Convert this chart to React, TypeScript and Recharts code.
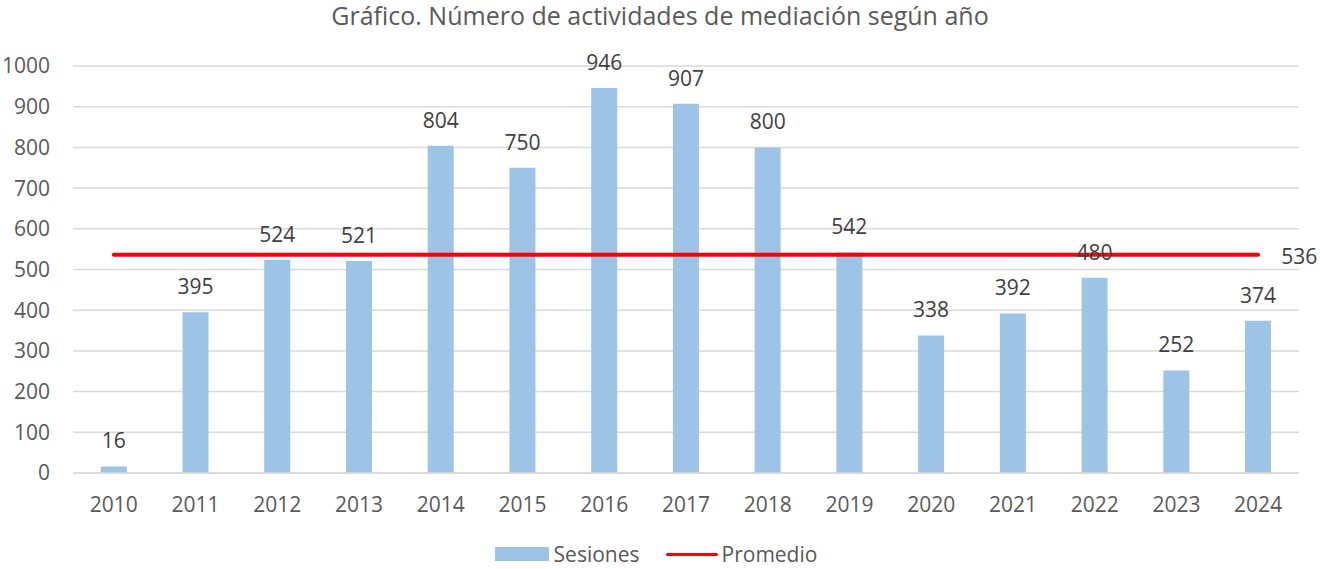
import React from 'react';
import {
  ComposedChart,
  Bar,
  Line,
  XAxis,
  YAxis,
  CartesianGrid,
  LabelList,
  Legend
} from 'recharts';

const years = ['2010', '2011', '2012', '2013', '2014', '2015', '2016', '2017', '2018', '2019', '2020', '2021', '2022', '2023', '2024'];
const sesiones = [16, 395, 524, 521, 804, 750, 946, 907, 800, 542, 338, 392, 480, 252, 374];
const promedio = [536, 536, 536, 536, 536, 536, 536, 536, 536, 536, 536, 536, 536, 536, 536];
const yTicks = [0, 100, 200, 300, 400, 500, 600, 700, 800, 900, 1000];

const FONT = '"Open Sans", "Noto Sans", sans-serif';
const BAR_COLOR = '#9DC3E6';
const LINE_COLOR = '#FF0000';
const TEXT_COLOR = '#595959';

const chartData = years.map((year, i) => ({
  year,
  sesiones: sesiones[i],
  promedio: promedio[i]
}));

// only the last point of the average line carries its value
const renderAvgLabel = (props: any) => {
  const { x, y, value, index } = props;
  if (index !== years.length - 1) return null;
  return (
    <text x={x + 23} y={y + 2} dy="0.35em" fill="#404040" fontSize={21} fontFamily={FONT}>
      {value}
    </text>
  );
};

const renderLegend = () => (
  <div
    style={{
      display: 'flex',
      justifyContent: 'center',
      alignItems: 'center',
      fontFamily: FONT,
      fontSize: 21,
      lineHeight: '30px',
      color: TEXT_COLOR
    }}
  >
    <span style={{ display: 'inline-block', width: 54, height: 14, background: BAR_COLOR, marginRight: 5 }} />
    <span style={{ marginRight: 26 }}>Sesiones</span>
    <span style={{ display: 'inline-block', width: 52, height: 3, background: LINE_COLOR, borderRadius: 2, marginRight: 4 }} />
    <span>Promedio</span>
  </div>
);

export default function App() {
  return (
    <div style={{ position: 'absolute', left: 0, top: 0, width: 1320, height: 569, background: '#fff' }}>
      <div
        style={{
          position: 'absolute',
          top: 0,
          left: 0,
          width: 1320,
          textAlign: 'center',
          fontFamily: FONT,
          fontSize: 25,
          lineHeight: '30px',
          color: TEXT_COLOR
        }}
      >
        Gráfico. Número de actividades de mediación según año
      </div>
      <ComposedChart
        width={1320}
        height={569}
        data={chartData}
        margin={{ top: 66, right: 21, bottom: 0, left: 13 }}
        barCategoryGap="34%"
      >
        <CartesianGrid vertical={false} stroke="#D9D9D9" strokeWidth={1.5} />
        <XAxis
          dataKey="year"
          axisLine={{ stroke: '#D9D9D9', strokeWidth: 1.5 }}
          tickLine={false}
          tickMargin={18}
          height={66}
          tick={{ fill: TEXT_COLOR, fontSize: 21, fontFamily: FONT }}
        />
        <YAxis
          domain={[0, 1000]}
          ticks={yTicks}
          width={60}
          axisLine={false}
          tickLine={false}
          tickMargin={17}
          tick={{ fill: TEXT_COLOR, fontSize: 21, fontFamily: FONT }}
        />
        <Legend verticalAlign="bottom" height={30} content={renderLegend} />
        <Bar dataKey="sesiones" name="Sesiones" fill={BAR_COLOR} isAnimationActive={false}>
          <LabelList dataKey="sesiones" position="top" offset={18} fill="#404040" fontSize={21} fontFamily={FONT} />
        </Bar>
        <Line
          dataKey="promedio"
          name="Promedio"
          stroke={LINE_COLOR}
          strokeWidth={4}
          strokeLinecap="round"
          dot={false}
          activeDot={false}
          isAnimationActive={false}
        >
          <LabelList dataKey="promedio" content={renderAvgLabel} />
        </Line>
      </ComposedChart>
    </div>
  );
}
